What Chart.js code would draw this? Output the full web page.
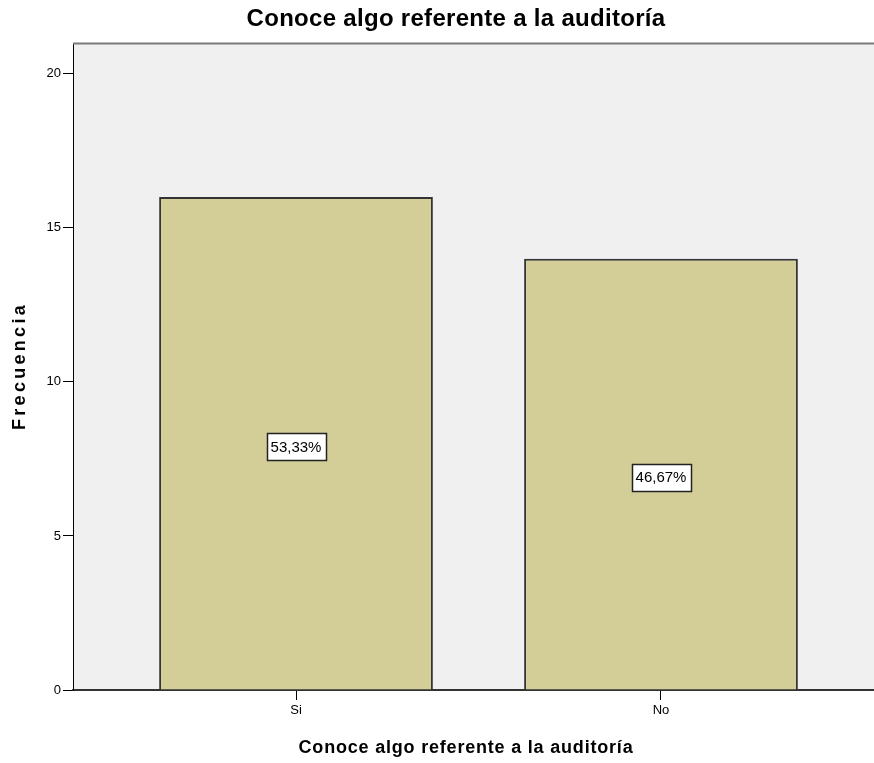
<!DOCTYPE html>
<html>
<head>
<meta charset="utf-8">
<script src="https://cdn.jsdelivr.net/npm/chart.js@4.4.1/dist/chart.umd.min.js"></script>
<style>
  html, body { margin: 0; padding: 0; background: #ffffff; overflow: hidden; }
  canvas { display: block; }
</style>
</head>
<body>
<canvas id="c" width="874" height="763"></canvas>
<script>
const chartTitle = 'Conoce algo referente a la auditoría';
const xTitle = 'Conoce algo referente a la auditoría';
const yTitle = 'Frecuencia';
const categories = ['Si', 'No'];
const frequencies = [16, 14];
const percentLabels = ['53,33%', '46,67%'];
const yTicks = [0, 5, 10, 15, 20];

const FONT = '"Liberation Sans", Arial, sans-serif';

const plotBg = {
  id: 'plotBg',
  beforeDraw(chart) {
    const { ctx, chartArea: a } = chart;
    ctx.save();
    ctx.fillStyle = '#F0F0F0';
    ctx.fillRect(a.left, a.top, a.right - a.left, a.bottom - a.top);
    ctx.restore();
  },
  afterDatasetsDraw(chart) {
    const { ctx, chartArea: a } = chart;
    ctx.save();
    ctx.strokeStyle = '#7a7a7a';
    ctx.lineWidth = 2;
    ctx.beginPath();
    ctx.moveTo(a.left, a.top + 0.5);
    ctx.lineTo(a.right, a.top + 0.5);
    ctx.stroke();
    ctx.restore();
  }
};

const labelsPlugin = {
  id: 'pctLabels',
  afterDatasetsDraw(chart) {
    const { ctx } = chart;
    const meta = chart.getDatasetMeta(0);
    const ys = chart.scales.y;
    ctx.save();
    ctx.font = '15px ' + FONT;
    ctx.textAlign = 'center';
    ctx.textBaseline = 'middle';
    meta.data.forEach((bar, i) => {
      const cx = bar.x;
      const cy = ys.getPixelForValue(frequencies[i] / 2) + 3;
      const w = ctx.measureText(percentLabels[i]).width + 8;
      const h = 27;
      ctx.fillStyle = '#ffffff';
      ctx.fillRect(Math.round(cx - w / 2), Math.round(cy - h / 2), Math.round(w), h);
      ctx.strokeStyle = '#222222';
      ctx.lineWidth = 1.5;
      ctx.strokeRect(Math.round(cx - w / 2) + 0.5, Math.round(cy - h / 2) + 0.5, Math.round(w), h);
      ctx.fillStyle = '#000000';
      ctx.fillText(percentLabels[i], cx, cy + 1);
    });
    ctx.restore();
  }
};

const titlesPlugin = {
  id: 'titles',
  afterDraw(chart) {
    const { ctx } = chart;
    ctx.save();
    ctx.fillStyle = '#000000';
    ctx.textAlign = 'center';
    ctx.textBaseline = 'middle';
    ctx.font = 'bold 24px ' + FONT;
    ctx.letterSpacing = '0.3px';
    ctx.fillText(chartTitle, 456, 19);
    ctx.font = 'bold 18px ' + FONT;
    ctx.letterSpacing = '0.8px';
    ctx.fillText(xTitle, 466, 748);
    ctx.translate(20, 366);
    ctx.rotate(-Math.PI / 2);
    ctx.font = 'bold 18px ' + FONT;
    ctx.letterSpacing = '3.3px';
    ctx.fillText(yTitle, 0, 0);
    ctx.restore();
  }
};

new Chart(document.getElementById('c'), {
  type: 'bar',
  data: {
    datasets: [{
      data: categories.map((c, i) => ({ x: i, y: frequencies[i] })),
      backgroundColor: '#D3CE97',
      borderColor: '#333333',
      borderWidth: 2,
      borderSkipped: 'bottom',
      barPercentage: 0.75,
      categoryPercentage: 1.0
    }]
  },
  options: {
    responsive: false,
    devicePixelRatio: 1,
    animation: false,
    layout: { padding: { top: 43, left: 0, right: 0, bottom: 0 } },
    plugins: {
      legend: { display: false },
      title: { display: false },
      tooltip: { enabled: false }
    },
    scales: {
      x: {
        type: 'linear',
        offset: false,
        min: -0.611,
        max: 1.5836,
        afterFit(s) { s.height = 73; },
        afterBuildTicks(s) { s.ticks = categories.map((c, i) => ({ value: i })); },
        grid: { offset: false, drawOnChartArea: false, drawTicks: true, tickLength: 10, color: '#000000' },
        border: { display: true, color: '#333333', width: 2 },
        ticks: {
          autoSkip: false,
          maxRotation: 0,
          padding: 3,
          color: '#000000',
          font: { family: FONT, size: 13 },
          callback: (v) => categories[v]
        }
      },
      y: {
        min: 0,
        max: 21,
        afterFit(s) { s.width = 73; },
        afterBuildTicks(s) { s.ticks = yTicks.map(v => ({ value: v })); },
        grid: { drawOnChartArea: false, drawTicks: true, tickLength: 10, color: '#000000' },
        border: { display: true, color: '#000000', width: 1 },
        ticks: {
          padding: 2,
          color: '#000000',
          font: { family: FONT, size: 13 }
        }
      }
    }
  },
  plugins: [plotBg, labelsPlugin, titlesPlugin]
});
</script>
</body>
</html>
